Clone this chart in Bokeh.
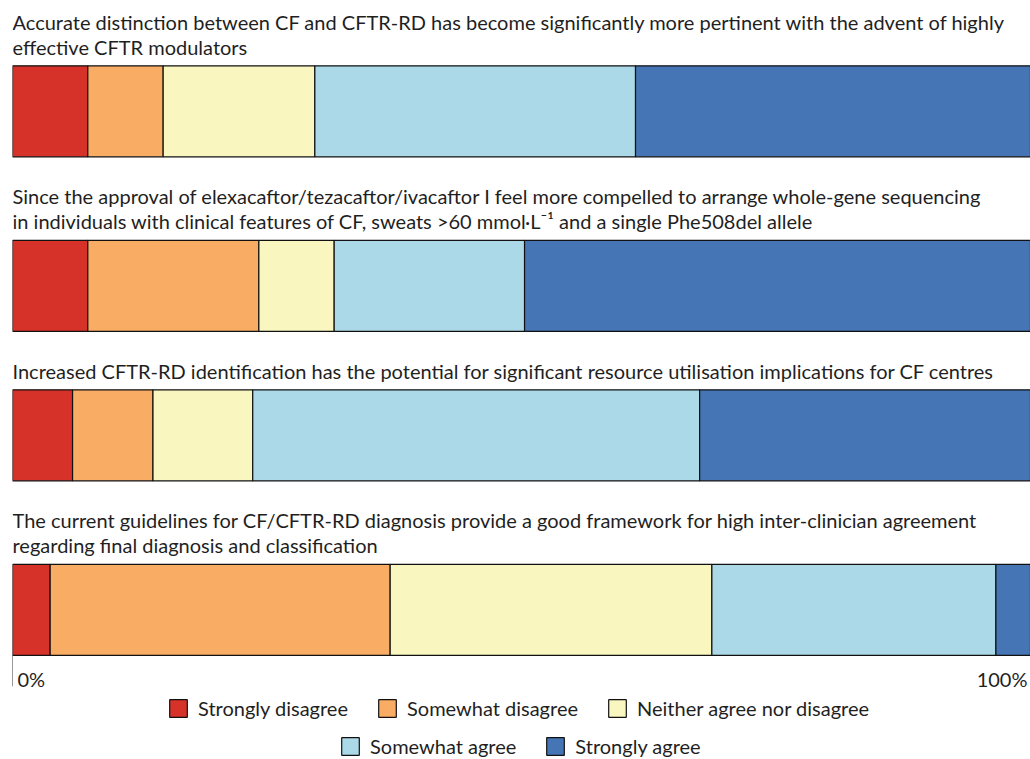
from bokeh.plotting import figure
from bokeh.models import Range1d, ColumnDataSource, Legend, LegendItem
from bokeh.core.properties import value
from bokeh.embed import file_html
from bokeh.resources import INLINE

# ---------------- data ----------------
statements = [
    ["Accurate distinction between CF and CFTR-RD has become significantly more pertinent with the advent of highly",
     "effective CFTR modulators"],
    ["Since the approval of elexacaftor/tezacaftor/ivacaftor I feel more compelled to arrange whole-gene sequencing",
     "in individuals with clinical features of CF, sweats >60 mmol\u00b7L\u207b\u00b9 and a single Phe508del allele"],
    ["Increased CFTR-RD identification has the potential for significant resource utilisation implications for CF centres"],
    ["The current guidelines for CF/CFTR-RD diagnosis provide a good framework for high inter-clinician agreement",
     "regarding final diagnosis and classification"],
]
categories = ["Strongly disagree", "Somewhat disagree", "Neither agree nor disagree",
              "Somewhat agree", "Strongly agree"]
strongly_disagree = [7.4, 7.4, 5.9, 3.7]
somewhat_disagree = [7.4, 16.8, 7.9, 33.4]
neither = [14.9, 7.4, 9.8, 31.6]
somewhat_agree = [31.5, 18.7, 43.9, 27.9]
strongly_agree = [38.8, 49.7, 32.5, 3.4]
tick_values = [0, 100]
tick_labels = ["0%", "100%"]

series = [strongly_disagree, somewhat_disagree, neither, somewhat_agree, strongly_agree]
colors = ["#d73229", "#f9ad64", "#f9f6c0", "#acd9e8", "#4575b4"]

FONT = "Lato"
TEXT_COLOR = "#1f1f1f"
FS = "20px"

# ---------------- layout (page pixels) ----------------
W, H = 1030, 759
LEFT = 12
TEXT_DY = -7.0        # correction for text baseline placement
LINE_H = 25.0
FIRST_BASE = 28.3
TITLE_GAP = 12.0
BAR_H = 91.0
AFTER_BAR = 46.5
TICK_LEN = 31
TICK_LABEL_BASE = 685

title_x, title_y, title_txt = [], [], []
bar_centers = []
base = FIRST_BASE
for lines in statements:
    for i, ln in enumerate(lines):
        title_x.append(0)
        title_y.append(base + i * LINE_H + TEXT_DY)
        title_txt.append(ln)
    top = base + (len(lines) - 1) * LINE_H + TITLE_GAP
    bar_centers.append(top + BAR_H / 2)
    base = top + BAR_H + AFTER_BAR
bars_bottom = bar_centers[-1] + BAR_H / 2

p = figure(width=W, height=H, x_range=Range1d(0, 100), y_range=Range1d(H, 0),
           output_backend="svg", toolbar_location=None,
           min_border_left=LEFT, min_border_right=0, min_border_top=0,
           min_border_bottom=0, x_axis_location=None, y_axis_location=None)
p.outline_line_color = None
p.grid.visible = False
p.background_fill_color = None
p.border_fill_color = "white"

# stacked bars
left = [0.0] * len(statements)
renderers = []
for vals, col in zip(series, colors):
    right = [l + v for l, v in zip(left, vals)]
    src = ColumnDataSource(dict(y=bar_centers, left=left, right=right))
    r = p.hbar(y="y", left="left", right="right", height=BAR_H, source=src,
               fill_color=col, line_color="#111111", line_width=1.2)
    renderers.append(r)
    left = right

# statement texts
p.text(x=title_x, y=title_y, text=title_txt, text_font=value(FONT),
       text_font_size=FS, text_color=TEXT_COLOR, text_align="left",
       text_baseline="alphabetic")

# x axis: long tick at 0% and the two end labels
p.segment(x0=tick_values[:1], x1=tick_values[:1], y0=[bars_bottom],
          y1=[bars_bottom + TICK_LEN], line_color="#333333", line_width=1)
p.text(x=tick_values, y=[TICK_LABEL_BASE + TEXT_DY] * len(tick_values), text=tick_labels,
       x_offset=[5, -3], text_align=["left", "right"],
       text_font=value(FONT), text_font_size=FS, text_color=TEXT_COLOR,
       text_baseline="alphabetic")

# legends (two centred rows)
def make_legend(idx, loc):
    return Legend(items=[LegendItem(label=categories[i], renderers=[renderers[i]]) for i in idx],
                  orientation="horizontal", location=loc,
                  glyph_width=22, glyph_height=22, label_height=22,
                  label_standoff=9, spacing=28, padding=0, margin=0,
                  border_line_color=None, background_fill_alpha=0,
                  label_text_font=FONT, label_text_font_size=FS,
                  label_text_color=TEXT_COLOR)

p.add_layout(make_legend([0, 1, 2], (155, 39)), "center")
p.add_layout(make_legend([3, 4], (327, 1)), "center")

open("out.html", "w").write(file_html(p, INLINE))
